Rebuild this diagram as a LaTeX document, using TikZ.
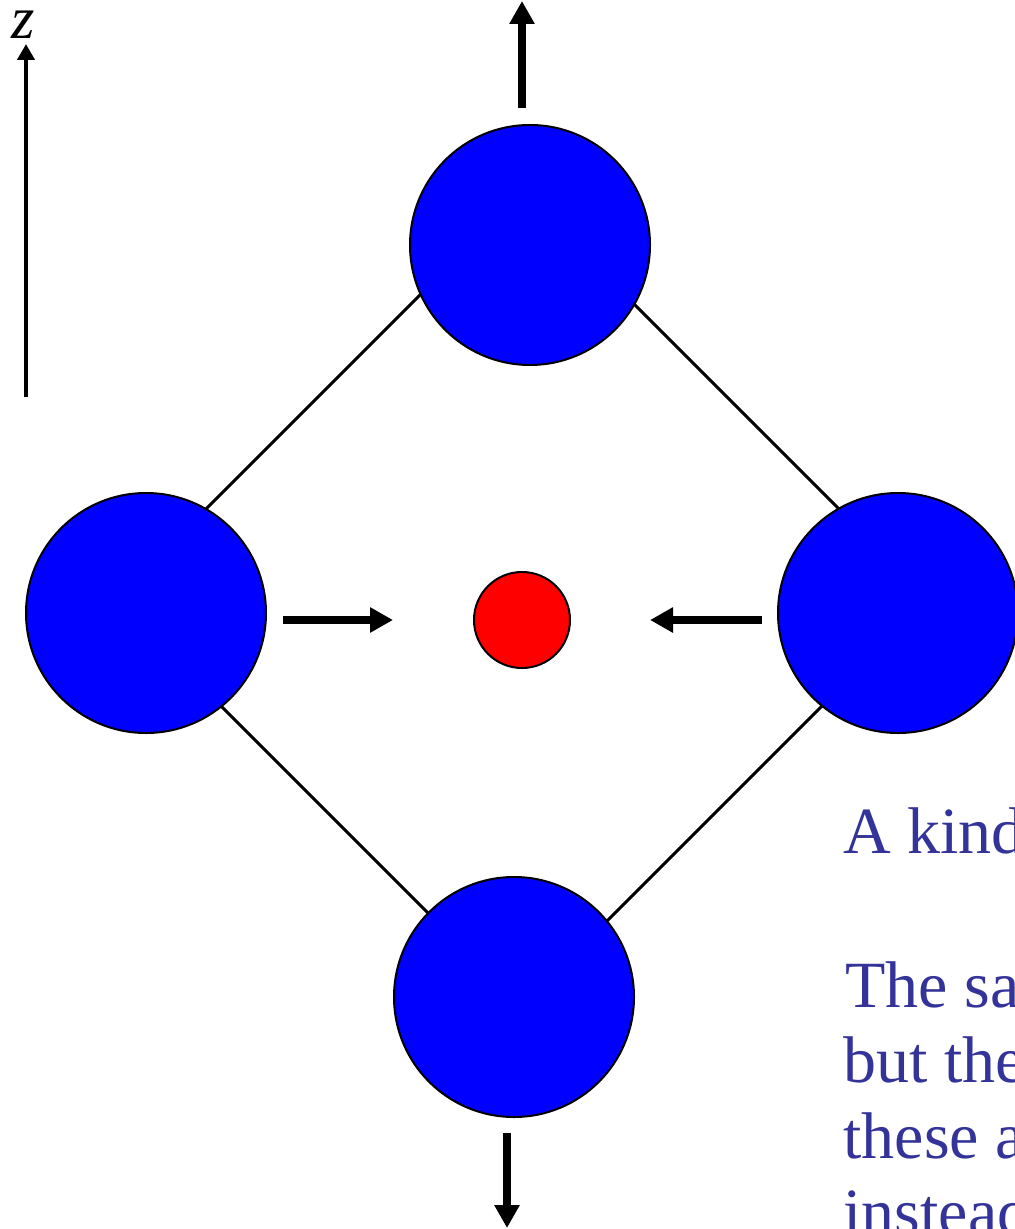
\documentclass[tikz,border=0pt]{standalone}
\usepackage{fontspec}
\setmainfont{Liberation Serif}
\usetikzlibrary{arrows.meta}
\definecolor{ballblue}{RGB}{0,0,255}
\definecolor{ballred}{RGB}{255,0,0}
\definecolor{textblue}{RGB}{51,51,153}
\tikzset{
  bigball/.style={circle,draw=black,line width=1pt,fill=ballblue,minimum size=120pt,inner sep=0pt},
  smallball/.style={circle,draw=black,line width=1pt,fill=ballred,minimum size=48pt,inner sep=0pt},
  bond/.style={line width=1.5pt,draw=black},
  force/.style={line width=4pt,-{Triangle[length=11.5pt,width=12pt]}},
  axis/.style={line width=2pt,-{Triangle[length=8pt,width=8.5pt]}},
  slidetext/.style={anchor=base west,inner sep=0pt,text=textblue,font=\fontsize{33}{37}\selectfont}
}
\begin{document}
\begin{tikzpicture}[x=0.5pt,y=-0.5pt]
\useasboundingbox (0,0) rectangle (1015,1229);
\clip (0,0) rectangle (1015,1229);
% bonds (behind balls)
\coordinate (b1a) at (440,275); \coordinate (b1b) at (190,525);
\coordinate (b2a) at (615,285); \coordinate (b2b) at (858,528);
\coordinate (b3a) at (205,690); \coordinate (b3b) at (445,930);
\coordinate (b4a) at (840,688); \coordinate (b4b) at (590,938);
\draw[bond] (b1a) -- (b1b);
\draw[bond] (b2a) -- (b2b);
\draw[bond] (b3a) -- (b3b);
\draw[bond] (b4a) -- (b4b);
% balls
\node[bigball] (top) at (530,245) {};
\node[bigball] (left) at (146,613) {};
\node[bigball] (right) at (898,613) {};
\node[bigball] (bottom) at (514,997) {};
\node[smallball] (center) at (522,620) {};
% force arrows
\coordinate (ta) at (522,108); \coordinate (tb) at (522,1);
\coordinate (ba) at (507,1133); \coordinate (bb) at (507,1228);
\coordinate (la) at (283,620); \coordinate (lb) at (393,620);
\coordinate (ra) at (762,620); \coordinate (rb) at (650,620);
\draw[force] (ta) -- (tb);
\draw[force] (ba) -- (bb);
\draw[force] (la) -- (lb);
\draw[force] (ra) -- (rb);
% z axis
\coordinate (za) at (26,397); \coordinate (zb) at (26,44);
\draw[axis] (za) -- (zb);
\node[inner sep=0pt,font=\fontsize{30}{30}\selectfont\itshape] (zlabel) at (23,25) {z};
% text
\node[slidetext] (t1) at (843,853) {A kind of};
\node[slidetext] (t2) at (845,1007) {The same};
\node[slidetext] (t3) at (843,1082) {but there};
\node[slidetext] (t4) at (843,1158) {these are};
\node[slidetext] (t5) at (843,1234) {instead};
\end{tikzpicture}
\end{document}
